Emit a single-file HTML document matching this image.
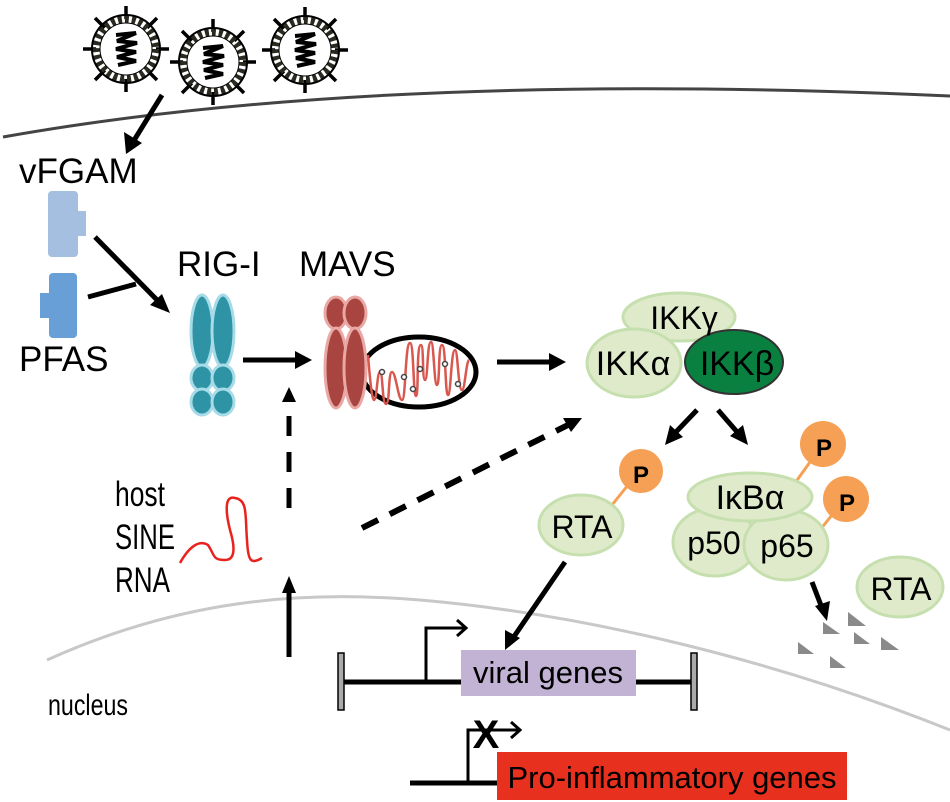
<!DOCTYPE html>
<html><head><meta charset="utf-8"><style>
body{margin:0;background:#fff}
svg{display:block}
text{font-family:"Liberation Sans",sans-serif}
</style></head><body>
<svg width="950" height="802" viewBox="0 0 950 802" xmlns="http://www.w3.org/2000/svg">
<defs>
<g id="virus">
<g stroke="#000" stroke-width="3.5">
<line x1="-43" y1="0" x2="43" y2="0"/><line x1="0" y1="-43" x2="0" y2="43"/>
<line x1="-31" y1="-31" x2="31" y2="31"/><line x1="-31" y1="31" x2="31" y2="-31"/>
</g>
<circle r="30" fill="#fff" stroke="#2b2a20" stroke-width="8" stroke-dasharray="4 3"/>
<circle r="34" fill="none" stroke="#000" stroke-width="2"/>
<circle r="26" fill="#fff" stroke="#000" stroke-width="1"/>
<path d="M-10,-14 L10,-16 L-9,-8 L11,-6 L-10,0 L10,3 L-9,8 L10,12 L-8,16" fill="none" stroke="#000" stroke-width="4"/>
</g>
</defs>

<path d="M3,137 Q380,70 950,96" fill="none" stroke="#444" stroke-width="3"/>
<path d="M47,660 C180,600 300,590 420,600 C560,612 750,650 950,730" fill="none" stroke="#c8c8c8" stroke-width="3"/>

<use href="#virus" x="126" y="49"/>
<use href="#virus" x="213" y="62"/>
<use href="#virus" x="305" y="50"/>

<line x1="162" y1="95" x2="133" y2="142" stroke="#000" stroke-width="5"/>
<path d="M126,154 L124,132 L142,143 Z"/>

<text x="19" y="183" font-size="35">vFGAM</text>
<path d="M52,191 h22 a4,4 0 0 1 4,4 v16 h8 v25 h-8 v17 a4,4 0 0 1 -4,4 h-22 a4,4 0 0 1 -4,-4 v-58 a4,4 0 0 1 4,-4z" fill="#a4bfdf"/>
<path d="M53,273 h20 a4,4 0 0 1 4,4 v57 a4,4 0 0 1 -4,4 h-20 a4,4 0 0 1 -4,-4 v-16 h-9 v-25 h9 v-16 a4,4 0 0 1 4,-4z" fill="#679fd6"/>
<text x="19" y="371" font-size="35">PFAS</text>

<line x1="95" y1="237" x2="160" y2="303" stroke="#000" stroke-width="5"/>
<path d="M170,313 L150,305 L162,294 Z"/>
<line x1="88" y1="297" x2="136" y2="284" stroke="#000" stroke-width="5"/>

<text x="177" y="276" font-size="35">RIG-I</text>
<text x="299" y="276" font-size="35">MAVS</text>

<g fill="#2e93a5" stroke="#a8dbe8" stroke-width="3">
<ellipse cx="202" cy="331" rx="11" ry="36"/><ellipse cx="223" cy="331" rx="11" ry="36"/>
<ellipse cx="202" cy="378" rx="11" ry="13"/><ellipse cx="223" cy="378" rx="11" ry="13"/>
<ellipse cx="202" cy="402" rx="11" ry="13"/><ellipse cx="223" cy="402" rx="11" ry="13"/>
</g>

<line x1="243" y1="360" x2="298" y2="360" stroke="#000" stroke-width="5"/>
<path d="M312,360 L295,351 L295,369 Z"/>

<ellipse cx="419" cy="372" rx="57" ry="35" fill="#fff" stroke="#000" stroke-width="5"/>
<path d="M368,355 C370,380 372,400 374,400 C377,400 377,372 380,372 C383,372 382,404 386,404 C390,404 388,372 392,372 C396,372 398,400 402,400 C406,400 405,343 410,343 C414,343 413,396 416,396 C419,396 416,345 421,345 C424,345 422,380 425,380 C428,380 427,342 431,342 C434,342 434,385 437,385 C440,385 438,345 442,345 C446,345 445,395 448,395 C451,395 451,350 455,350 C458,350 458,390 462,390 C465,390 466,362 469,360" fill="none" stroke="#d9574e" stroke-width="2.5"/>
<g fill="#fff" stroke="#444" stroke-width="1.5"><circle cx="382" cy="372" r="2.5"/><circle cx="404" cy="377" r="2.5"/><circle cx="413" cy="389" r="2.5"/><circle cx="420" cy="369" r="2.5"/><circle cx="445" cy="364" r="2.5"/><circle cx="458" cy="384" r="2.5"/></g>

<g fill="#a84541" stroke="#e9a8a4" stroke-width="3">
<ellipse cx="336" cy="313" rx="11" ry="16"/><ellipse cx="355" cy="313" rx="11" ry="16"/>
<ellipse cx="336" cy="368" rx="11" ry="40"/><ellipse cx="355" cy="368" rx="11" ry="40"/>
</g>

<line x1="497" y1="362" x2="552" y2="362" stroke="#000" stroke-width="5"/>
<path d="M566,362 L549,353 L549,371 Z"/>

<g stroke="#c6dfae" stroke-width="3">
<ellipse cx="679" cy="317" rx="56" ry="24" fill="#dfeacb"/>
<ellipse cx="634" cy="363" rx="47" ry="34" fill="#dfeacb"/>
<ellipse cx="734" cy="362" rx="49" ry="32" fill="#0a8040" stroke="#333" stroke-width="2"/>
</g>
<text x="684" y="329" font-size="32" text-anchor="middle">IKKγ</text>
<text x="633" y="375" font-size="34" text-anchor="middle">IKKα</text>
<text x="737" y="375" font-size="34" text-anchor="middle">IKKβ</text>

<line x1="697" y1="410" x2="675" y2="433" stroke="#000" stroke-width="5"/>
<path d="M665,445 L670,425 L683,437 Z"/>
<line x1="718" y1="410" x2="738" y2="433" stroke="#000" stroke-width="5"/>
<path d="M748,445 L730,436 L743,425 Z"/>

<line x1="362" y1="528" x2="570" y2="424" stroke="#000" stroke-width="6" stroke-dasharray="18 13"/>
<path d="M582,418 L563,418 L571,432 Z"/>
<line x1="289" y1="508" x2="289" y2="395" stroke="#000" stroke-width="5" stroke-dasharray="20 16"/>
<path d="M289,387 L282,402 L296,402 Z"/>
<line x1="289" y1="657" x2="289" y2="590" stroke="#000" stroke-width="5"/>
<path d="M289,576 L282,593 L296,593 Z"/>

<text x="115" y="506" font-size="35" textLength="50" lengthAdjust="spacingAndGlyphs">host</text>
<text x="115" y="549" font-size="35" textLength="60" lengthAdjust="spacingAndGlyphs">SINE</text>
<text x="115" y="592" font-size="35" textLength="55" lengthAdjust="spacingAndGlyphs">RNA</text>
<path d="M180,563 C190,545 200,540 208,545 C215,555 212,560 225,560 C238,560 233,540 230,530 C225,510 225,495 235,498 C248,500 245,515 247,540 C248,560 250,565 262,558" fill="none" stroke="#e8231e" stroke-width="2.5"/>

<line x1="612" y1="505" x2="632" y2="480" stroke="#f5a054" stroke-width="3"/>
<ellipse cx="581" cy="525" rx="42" ry="30" fill="#dfeacb" stroke="#c6dfae" stroke-width="3"/>
<text x="582" y="538" font-size="32" text-anchor="middle">RTA</text>
<circle cx="641" cy="471" r="22" fill="#f5a054"/>
<text x="641" y="483" font-size="24" font-weight="bold" text-anchor="middle">P</text>

<line x1="795" y1="483" x2="815" y2="455" stroke="#f5a054" stroke-width="3"/>
<line x1="820" y1="530" x2="840" y2="505" stroke="#f5a054" stroke-width="3"/>
<g fill="#dfeacb" stroke="#c6dfae" stroke-width="3">
<ellipse cx="715" cy="542" rx="42" ry="34"/>
<ellipse cx="786" cy="545" rx="42" ry="35"/>
<ellipse cx="750" cy="497" rx="62" ry="24"/>
</g>
<text x="750" y="509" font-size="34" text-anchor="middle">IκBα</text>
<text x="714" y="554" font-size="32" text-anchor="middle">p50</text>
<text x="787" y="557" font-size="32" text-anchor="middle">p65</text>
<circle cx="823" cy="444" r="23" fill="#f5a054"/>
<text x="824" y="456" font-size="24" font-weight="bold" text-anchor="middle">P</text>
<circle cx="846" cy="499" r="23" fill="#f5a054"/>
<text x="847" y="511" font-size="24" font-weight="bold" text-anchor="middle">P</text>

<ellipse cx="900" cy="587" rx="43" ry="30" fill="#dfeacb" stroke="#c6dfae" stroke-width="3"/>
<text x="901" y="600" font-size="32" text-anchor="middle">RTA</text>

<line x1="812" y1="582" x2="822" y2="608" stroke="#000" stroke-width="5"/>
<path d="M827,621 L815,606 L830,601 Z"/>
<g fill="#8a8a8a">
<path d="M798,654 L798,642 L814,654Z"/><path d="M823,634 L823,622 L840,634Z"/><path d="M848,626 L848,612 L866,626Z"/>
<path d="M854,644 L854,632 L870,644Z"/><path d="M830,668 L830,656 L846,668Z"/><path d="M881,650 L881,637 L899,650Z"/>
</g>

<line x1="565" y1="562" x2="513" y2="638" stroke="#000" stroke-width="5"/>
<path d="M505,650 L505,630 L520,638 Z"/>

<line x1="343" y1="682" x2="465" y2="682" stroke="#000" stroke-width="5"/>
<line x1="636" y1="682" x2="692" y2="682" stroke="#000" stroke-width="5"/>
<rect x="338" y="653" width="6" height="57" fill="#aaa" stroke="#000" stroke-width="1.5"/>
<rect x="691" y="653" width="6" height="57" fill="#aaa" stroke="#000" stroke-width="1.5"/>
<polyline points="426,682 426,628 465,628" fill="none" stroke="#000" stroke-width="3"/>
<polyline points="457,620 466,628 457,636" fill="none" stroke="#000" stroke-width="3"/>
<rect x="461" y="650" width="175" height="46" fill="#c2b2d3"/>
<text x="548" y="683" font-size="31" text-anchor="middle">viral genes</text>

<line x1="410" y1="783" x2="500" y2="783" stroke="#000" stroke-width="5"/>
<rect x="497" y="752" width="350" height="48" fill="#e8301e"/>
<text x="672" y="788" font-size="31" text-anchor="middle">Pro-inflammatory genes</text>
<polyline points="468,783 468,730 519,730" fill="none" stroke="#000" stroke-width="3"/>
<polyline points="511,722 520,730 511,738" fill="none" stroke="#000" stroke-width="3"/>
<text x="486" y="748" font-size="40" font-weight="bold" text-anchor="middle">X</text>
<text x="48" y="715" font-size="30" textLength="80" lengthAdjust="spacingAndGlyphs">nucleus</text>
</svg>
</body></html>
